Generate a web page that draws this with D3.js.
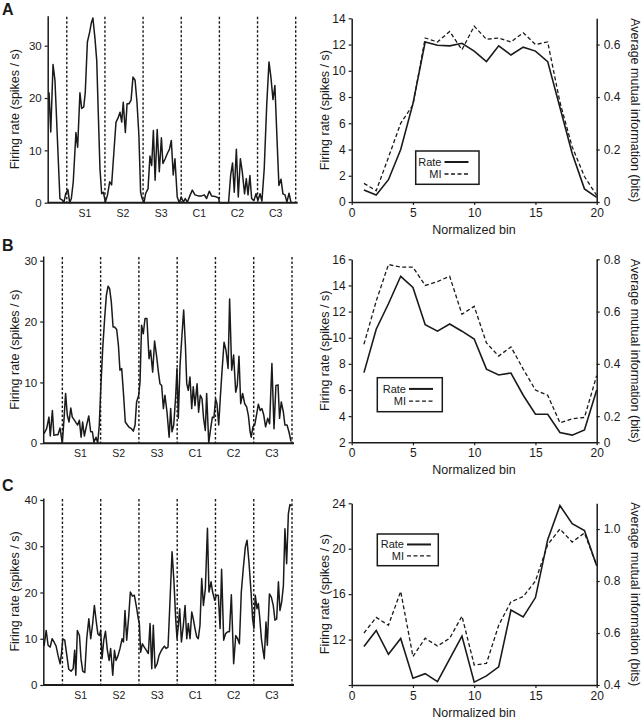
<!DOCTYPE html>
<html><head><meta charset="utf-8">
<script src="https://cdn.jsdelivr.net/npm/d3@7"></script>
<style>
body{margin:0;background:#fff}
text{font-family:"Liberation Sans",Arial,sans-serif;fill:#1a1a1a}
</style>
</head><body>
<svg id="chart" width="642" height="719"></svg>
<script>
// ---------- DATA ----------
const segments = ["S1","S2","S3","C1","C2","C3"];
const segBoundaries = [10,30,50,70,90,110,130];

const timeA = [0.7,1.6,2.8,3.8,6.4,7.7,8.5,9.4,10.6,11.5,12.4,13.4,14.8,15.7,16.9,17.8,18.9,19.7,20.8,22,22.9,23.7,24.8,25.7,26.5,27.4,28.3,29.2,30.2,31.3,32.5,33.5,34.7,35.8,36.8,37.9,38.8,39.6,40.7,41.6,42.6,43.7,44.7,45.8,46.8,47.8,48.7,49.5,50.5,51.3,52.6,53.6,54.5,55.4,56.3,57.4,58.5,59.6,60.4,61.6,62.7,63.8,64.8,65.8,66.7,67.9,69,70,71.1,72.1,73.2,74.6,75.8,77.2,78.9,80.7,82.1,83.3,84.7,85.9,87.7,89.6,90,94.8,95.9,96.9,97.8,98.9,99.9,101,102,103.2,104.1,105,106,106.9,108.1,109.2,110.2,111.3,112.3,113.5,114.8,116,117,118.1,119.1,120.2,121.2,122.3,123.3,124.4,125.4,126.5,127.5];
const rateA = [21.1,13.5,26.4,23.4,0.8,0.5,0,1.7,2.5,0,0.8,4,13.4,10.6,21,18,18.3,21.1,30.7,32.6,34.4,35.3,31.3,27.2,17.3,6.5,1.7,2,0.1,1.4,4,3.4,9.7,15.4,16.1,17.3,15.4,19.2,13.4,18.9,18.9,19.6,24,23.4,19.2,12.9,2,0.8,0,1.7,2.7,8.9,7.1,13.8,4.3,14,5.9,12.4,7.5,8.4,9.4,10.2,11.9,5.3,8.4,1.1,0,1.1,0.1,0.8,0.1,1.4,2.4,1.5,1.3,1.3,1.5,0.8,2.2,1.3,1.2,0.9,0,0,5.2,7.6,2,10.2,1.1,8.4,5.9,1.7,4.6,1.5,5.2,0.8,0.4,1.7,0.4,1.7,0.3,6.5,18.6,26.9,24,19.7,22.4,12.2,3.3,4.5,1.7,1.5,0.1,1.8,0.1];

const timeB = [0.4,1.8,3,3.7,4.8,5.6,6.7,7.7,8.8,9.5,10,10.9,11.7,12.6,13.5,14.4,15.2,16.3,17.1,18,18.9,19.8,20.6,21.5,22.7,23.8,24.8,25.7,26.5,27.6,28.5,29.3,30.2,31.1,32.1,33,33.9,34.7,35.6,36.5,37.3,38.4,39.3,40.1,41,41.9,42.9,44,45,46.1,47.1,48,48.8,49.9,50.6,51.4,52.3,53.2,54.2,55.3,56.1,57.2,58.2,59.3,60.2,61,61.9,62.8,63.6,64.7,65.8,66.6,67.3,68.2,69.2,69.9,70.6,71.5,72.5,73.4,74.3,75,75.8,76.7,77.6,78.4,79.3,80.4,81.2,82.1,83,83.8,84.7,85.4,86.5,87.5,88.4,89.2,90.1,90.8,91.7,92.5,93.4,94.5,95.5,96.6,97.4,98.5,99.5,100.6,101.4,102.3,103.2,104.2,105.3,106.3,107.2,108.1,108.7,109.6,110.5,111.5,112.4,113.4,114.3,115.2,116.2,117.3,118.3,119.5,120.6,121.6,122.7,123.5,124.4,125.5,126.3,127.4,128.4,129.5];
const rateB = [1.6,2.4,4.3,1.2,5.4,1.3,1.4,1.4,2.5,1.0,0,4.1,8.2,4.6,3.5,5.8,4.3,3.8,3.4,3,3.8,1.0,3.5,1.2,3.0,4.5,1.9,1.9,0.2,1.0,0.1,3,9.8,15.6,20.5,24.3,25.8,25.4,23.2,19.1,19.1,18.7,16.1,12,12.3,8.4,3.5,3,2.6,2.4,2,3,6.8,7.9,10.1,19.4,18,20.5,20.5,13.9,15.3,11.7,16.8,14.2,11.7,9.8,9.5,5.7,7.9,5.1,1.0,5.7,1.9,3,7.6,12.3,4.1,12.8,17.7,21.9,16.1,9.8,8.7,10.9,5.7,9.3,6.2,9.8,5.1,7.9,7.3,4.1,2.1,8.2,0.1,2.4,4.3,4.2,7.3,6.5,3,7.3,11.7,16.6,15.3,12.3,23.7,12,14.5,8.4,9.5,14.3,6.5,8.2,6.5,6,4.6,1.9,1.0,2.7,3,4.7,6.4,5.4,5.7,4.7,2.7,4.1,3.2,13.1,2.4,9.5,9.6,4.1,6.8,5.1,3,3,1.9,0.3];

const timeC = [0.4,1.5,2.5,3.6,4.6,5.6,6.7,7.7,8.8,9.5,10.2,11.2,12.3,13.3,14.5,15.6,16.4,17,17.8,18.9,19.7,20.6,21.7,22.7,23.8,24.8,25.8,26.7,27.6,28.5,29.3,30,30.7,31.6,32.5,33.5,34.4,35.2,36.3,37.2,38,39.1,40.1,41.2,41.9,42.7,43.6,44.7,45.5,46.6,47.6,48.7,49.5,50.2,50.9,51.8,52.8,53.9,54.9,55.8,56.7,57.5,58.4,59.5,60.5,61.5,62.4,63.3,64.2,65.2,66.2,67.3,68.3,69.2,69.9,70.6,71.3,72.2,73.2,74.1,75,75.8,76.7,77.6,78.4,79.3,80.2,81,81.9,82.8,83.7,84.7,85.8,86.6,87.7,88.5,89.6,90.5,91.5,92.4,93.2,94.3,95.3,96.4,97.3,98.3,99.5,100.6,101.6,102.5,103.5,104.6,105.6,106.5,107.5,108.6,109.4,110.1,110.8,111.7,112.4,113.1,114,114.7,115.5,116.4,117.1,118.2,119.2,120.2,121.1,122,122.9,123.7,124.6,125.5,126.3,127.2,128.1,128.9,129.8];
const rateC = [8.4,11.8,8.6,8.2,10,9.3,8.4,6.4,4.6,6.8,10,9.7,6.4,3.4,3.0,3.5,7.5,2.1,11.8,10.7,5.7,3.0,2.7,10,14.3,10,13.3,17.2,14,11.1,10.7,11.8,5.7,9.7,11.6,7.5,5.3,7.9,2.1,7.5,5.3,6.4,7.9,10,9.3,16.1,9.7,15.1,20.1,19.2,19.4,16.9,14.7,13.3,7.1,8.9,8.2,7.5,6.8,13.3,3.5,12.9,3.7,4.6,6.4,7.3,7.9,8.4,7.9,8.2,17.9,28.8,22.3,14.3,10,12.9,16.5,9.3,12.9,17.2,10,13.3,10,15.8,14.3,12.2,10.4,10,12.9,23,17.2,20.8,33.9,20.1,22.3,20.1,18.3,19.4,19.4,12.2,25,9.7,11.1,11.5,11.5,19.5,4.6,10.7,10,8.9,20.1,25.5,29.8,31.3,26.6,20.1,14.3,12.2,19.4,16.5,17.6,14.7,10,7.9,5.7,13.6,8.6,19.7,19,17.2,14,14.3,22.3,16.1,17.9,21.5,33.8,26.2,37,39,38.7];

const bins = [1,2,3,4,5,6,7,8,9,10,11,12,13,14,15,16,17,18,19,20];
const rateRA = [0.92,0.53,1.7,4.0,7.5,12.2,11.95,11.9,12.1,11.5,10.7,11.9,11.2,11.8,11.5,10.7,7.2,3.7,1.0,0.35];
const miRA   = [0.071,0.043,0.17,0.30,0.37,0.625,0.61,0.65,0.58,0.67,0.62,0.625,0.61,0.645,0.60,0.61,0.38,0.21,0.097,0.025];
const rateRB = [7.33,10.65,12.6,14.7,13.85,11.0,10.5,11.05,10.5,9.9,7.6,7.15,7.3,5.6,4.15,4.15,2.75,2.55,2.95,6.0];
const miRB   = [0.475,0.64,0.78,0.77,0.77,0.70,0.715,0.735,0.59,0.62,0.48,0.43,0.465,0.38,0.30,0.28,0.175,0.19,0.195,0.355];
const rateRC = [11.4,12.8,10.7,12.1,8.6,9.0,8.3,10.3,12.3,8.25,8.8,9.6,14.6,14.0,15.7,20.8,23.8,22.2,21.6,18.5];
const miRC   = [0.60,0.66,0.63,0.76,0.51,0.58,0.55,0.58,0.665,0.477,0.483,0.63,0.72,0.74,0.80,0.94,1.0,0.95,0.985,0.86];

const leftTicksA = [0,10,20,30];
const leftTicksB = [0,10,20,30];
const leftTicksC = [0,10,20,30,40];
const binTicks = [0,5,10,15,20];
const rTicksLeftA = [0,2,4,6,8,10,12,14];
const rTicksRightA = [0,0.2,0.4,0.6];
const rTicksLeftB = [2,4,6,8,10,12,14,16];
const rTicksRightB = [0.1,0.2,0.4,0.6,0.8];
const rTicksRightBLabels = ["0","0.2","0.4","0.6","0.8"];
const rTicksLeftC = [8,12,16,20,24];
const rTicksLeftCLabels = ["","12","16","20","24"];
const rTicksRightC = [0.4,0.6,0.8,1.0];
const legendLabels = ["Rate","MI"];
const panelLetters = ["A","B","C"];

// ---------- DRAW ----------
const svg = d3.select("#chart");
const INK = "#1a1a1a";

function styleAxis(g, fs){
  g.select(".domain").attr("stroke", INK).attr("stroke-width", 1.5);
  g.selectAll(".tick line").attr("stroke", INK).attr("stroke-width", 1.2);
  g.selectAll(".tick text").attr("font-size", fs).attr("fill", INK)
    .attr("font-family", '"Liberation Sans", Arial, sans-serif');
}

function leftPanel(cfg, t, v, ticks){
  const x = d3.scaleLinear().domain([0,130]).range([cfg.x0, cfg.x1]);
  const y = d3.scaleLinear().domain([0,cfg.ymax]).range([cfg.y0, cfg.yTop]);
  const g = svg.append("g");
  g.selectAll("line.div").data(segBoundaries).join("line")
    .attr("x1", d=>x(d)).attr("x2", d=>x(d))
    .attr("y1", cfg.yTop+1).attr("y2", cfg.y0)
    .attr("stroke", INK).attr("stroke-width", 1.4).attr("stroke-dasharray", "2.5,2");
  g.append("path").datum(d3.zip(t,v))
    .attr("d", d3.line().x(d=>x(d[0])).y(d=>y(d[1])))
    .attr("fill","none").attr("stroke", INK).attr("stroke-width", 1.5).attr("stroke-linejoin","round");
  const ya = g.append("g").attr("transform", `translate(${cfg.x0},0)`)
    .call(d3.axisLeft(y).tickValues(ticks).tickSize(3).tickSizeOuter(0).tickPadding(3));
  styleAxis(ya, 11.5);
  g.append("line").attr("x1", cfg.x0).attr("x2", cfg.x1+2).attr("y1", cfg.y0).attr("y2", cfg.y0)
    .attr("stroke", INK).attr("stroke-width", 2);
  g.selectAll("text.seg").data(segments).join("text")
    .attr("x", (d,i)=>x((segBoundaries[i]+segBoundaries[i+1])/2)-1)
    .attr("y", cfg.y0+14).attr("text-anchor","middle").attr("font-size", 10.5).text(d=>d);
  g.append("text").attr("transform", `translate(19,${(cfg.y0+cfg.yTop)/2}) rotate(-90)`)
    .attr("text-anchor","middle").attr("font-size", 12.5).text("Firing rate (spikes / s)");
}

function rightPanel(cfg, rate, mi, lTicks, lLabels, rTicks, rLabels){
  const x = d3.scaleLinear().domain([0,20]).range([351.7, 596.7]);
  const yL = d3.scaleLinear().domain([cfg.lmin, cfg.lmax]).range([cfg.y0, cfg.yTop]);
  const yR = d3.scaleLinear().domain([cfg.rmin, cfg.rmax]).range([cfg.y0, cfg.yTop]);
  const g = svg.append("g");
  const xa = g.append("g").attr("transform", `translate(0,${cfg.y0})`)
    .call(d3.axisBottom(x).tickValues(binTicks).tickSize(3).tickSizeOuter(0).tickPadding(3));
  styleAxis(xa, 12);
  const la = g.append("g").attr("transform", `translate(351.7,0)`)
    .call(d3.axisLeft(yL).tickValues(lTicks).tickSize(3).tickSizeOuter(0).tickPadding(3)
      .tickFormat((d,i)=> lLabels ? lLabels[i] : d));
  styleAxis(la, 12);
  const ra = g.append("g").attr("transform", `translate(596.7,0)`)
    .call(d3.axisRight(yR).tickValues(rTicks).tickSize(3).tickSizeOuter(0).tickPadding(4)
      .tickFormat((d,i)=> rLabels ? rLabels[i] : (d===0 ? "0" : d3.format(".1f")(d))));
  styleAxis(ra, 12);
  g.append("path").datum(d3.zip(bins, rate))
    .attr("d", d3.line().x(d=>x(d[0])).y(d=>yL(d[1])))
    .attr("fill","none").attr("stroke", INK).attr("stroke-width", 1.6);
  g.append("path").datum(d3.zip(bins, mi))
    .attr("d", d3.line().x(d=>x(d[0])).y(d=>yR(d[1])))
    .attr("fill","none").attr("stroke", INK).attr("stroke-width", 1.3).attr("stroke-dasharray","4,2.5");
  // legend
  const L = cfg.legend;
  g.append("rect").attr("x", L.x).attr("y", L.y).attr("width", L.w).attr("height", L.h)
    .attr("fill","#fff").attr("stroke", INK).attr("stroke-width", 1.5);
  legendLabels.forEach((lab,i)=>{
    const yy = L.y + L.h*(i===0 ? 0.33 : 0.69);
    g.append("text").attr("x", L.tx).attr("y", yy+4).attr("text-anchor","end")
      .attr("font-size", 11).text(lab);
    g.append("line").attr("x1", L.tx+3).attr("x2", L.tx+27).attr("y1", yy).attr("y2", yy)
      .attr("stroke", INK).attr("stroke-width", i===0 ? 2 : 1.3)
      .attr("stroke-dasharray", i===0 ? null : "4,2.5");
  });
  g.append("text").attr("x", 474).attr("y", cfg.y0+32).attr("text-anchor","middle")
    .attr("font-size", 12.5).text("Normalized bin");
  g.append("text").attr("transform", `translate(329,${(cfg.y0+cfg.yTop)/2}) rotate(-90)`)
    .attr("text-anchor","middle").attr("font-size", 12.5).text("Firing rate (spikes / s)");
  g.append("text").attr("transform", `translate(631,${(cfg.y0+cfg.yTop)/2}) rotate(90)`)
    .attr("text-anchor","middle").attr("font-size", 12.5).text("Average mutual information (bits)");
}

leftPanel({x0:47.7, x1:295.7, y0:202.7, yTop:15.7, ymax:35.73}, timeA, rateA, leftTicksA);
leftPanel({x0:43.2, x1:292, y0:443.3, yTop:256, ymax:30.77}, timeB, rateB, leftTicksB);
leftPanel({x0:43.3, x1:292, y0:685, yTop:498, ymax:40.43}, timeC, rateC, leftTicksC);

rightPanel({y0:202, yTop:18.3, lmin:0, lmax:14, rmin:0, rmax:0.7,
  legend:{x:415.7, y:151, w:63.3, h:33.3, tx:441.5}}, rateRA, miRA, rTicksLeftA, null, rTicksRightA, null);
rightPanel({y0:442.3, yTop:259.3, lmin:2, lmax:16, rmin:0.1, rmax:0.8,
  legend:{x:377.3, y:377.7, w:65, h:34, tx:406}}, rateRB, miRB, rTicksLeftB, null, rTicksRightB, rTicksRightBLabels);
rightPanel({y0:685, yTop:503.3, lmin:8, lmax:24, rmin:0.4, rmax:1.099,
  legend:{x:377.3, y:534, w:61, h:31.7, tx:404}}, rateRC, miRC, rTicksLeftC, rTicksLeftCLabels, rTicksRightC, null);

const letterY = [15, 251, 491];
panelLetters.forEach((l,i)=>{
  svg.append("text").attr("x", 2).attr("y", letterY[i]).attr("font-size", 16)
    .attr("font-weight","bold").text(l);
});
</script>
</body></html>
